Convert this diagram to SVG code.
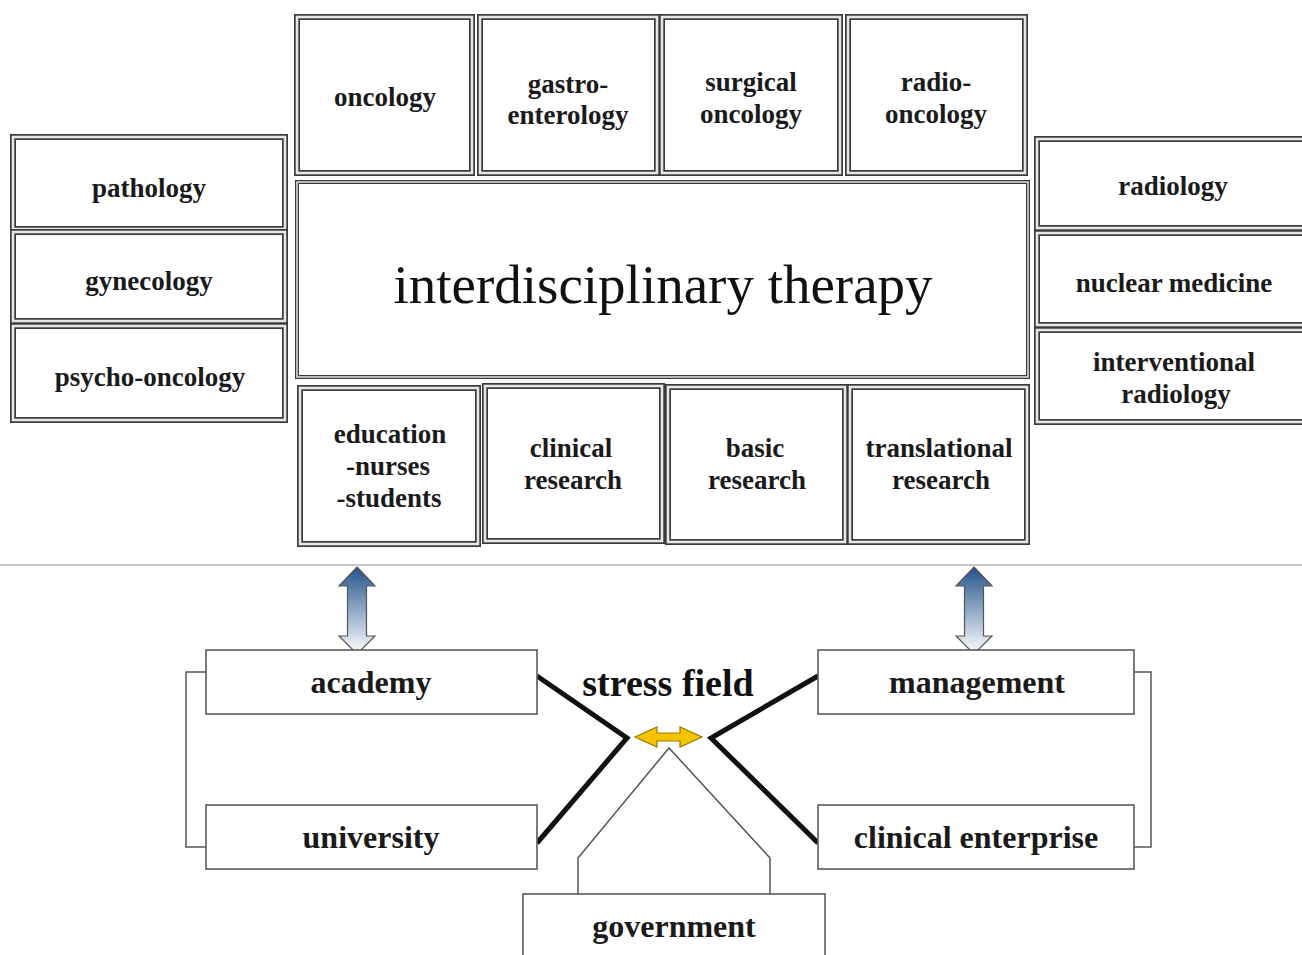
<svg xmlns="http://www.w3.org/2000/svg" width="1302" height="955" viewBox="0 0 1302 955">
<style>
.bo{fill:#fff;stroke:#3a3a3a;stroke-width:6}
.bi{fill:none;stroke:#e6e6e6;stroke-width:2.6}
.co{fill:#fff;stroke:#3a3a3a;stroke-width:4}
.ci{fill:none;stroke:#eee;stroke-width:1.4}
.sb{fill:#fff;stroke:#5a5a5a;stroke-width:1.6}
.t{font-family:"Liberation Serif","Times New Roman",serif;font-weight:bold;font-size:27px;fill:#1a1a1a;text-anchor:middle}
.tl{font-family:"Liberation Serif","Times New Roman",serif;font-weight:bold;font-size:32px;fill:#1a1a1a;text-anchor:middle}
.thick{fill:none;stroke:#111;stroke-width:5;stroke-linejoin:miter}
.thin{fill:none;stroke:#555;stroke-width:1.5}
</style>
<defs>
<linearGradient id="blue" x1="0" y1="0" x2="0" y2="1">
<stop offset="0" stop-color="#24538c"/>
<stop offset="1" stop-color="#ffffff"/>
</linearGradient>
</defs>
<rect width="1302" height="955" fill="#fff"/>
<line x1="0" y1="565" x2="1302" y2="565" stroke="#c8c8c8" stroke-width="2"/>

<g id="oncology"><rect class="bo" x="297" y="17" width="175" height="156"/><rect class="bi" x="297" y="17" width="175" height="156"/><text class="t" x="385" y="106">oncology</text></g>
<g id="gastro"><rect class="bo" x="480" y="17" width="177" height="156"/><rect class="bi" x="480" y="17" width="177" height="156"/><text class="t" x="568" y="93">gastro-</text><text class="t" x="568" y="124">enterology</text></g>
<g id="surgical"><rect class="bo" x="662" y="17" width="178" height="156"/><rect class="bi" x="662" y="17" width="178" height="156"/><text class="t" x="751" y="91">surgical</text><text class="t" x="751" y="123">oncology</text></g>
<g id="radio-oncology"><rect class="bo" x="848" y="17" width="177" height="156"/><rect class="bi" x="848" y="17" width="177" height="156"/><text class="t" x="936" y="91">radio-</text><text class="t" x="936" y="123">oncology</text></g>

<g id="center"><rect class="co" x="297" y="182" width="731" height="195"/><rect class="ci" x="297" y="182" width="731" height="195"/><text x="663" y="303" font-family="'Liberation Serif','Times New Roman',serif" font-size="55" fill="#111" text-anchor="middle">interdisciplinary therapy</text></g>

<g id="pathology"><rect class="bo" x="13" y="137" width="272" height="92"/><rect class="bi" x="13" y="137" width="272" height="92"/><text class="t" x="149" y="197">pathology</text></g>
<g id="gynecology"><rect class="bo" x="13" y="232" width="272" height="89"/><rect class="bi" x="13" y="232" width="272" height="89"/><text class="t" x="149" y="290">gynecology</text></g>
<g id="psycho-oncology"><rect class="bo" x="13" y="326" width="272" height="94"/><rect class="bi" x="13" y="326" width="272" height="94"/><text class="t" x="150" y="386">psycho-oncology</text></g>

<g id="radiology"><rect class="bo" x="1037" y="139" width="275" height="89"/><rect class="bi" x="1037" y="139" width="275" height="89"/><text class="t" x="1173" y="195">radiology</text></g>
<g id="nuclear"><rect class="bo" x="1037" y="233" width="275" height="92"/><rect class="bi" x="1037" y="233" width="275" height="92"/><text class="t" x="1174" y="292">nuclear medicine</text></g>
<g id="interventional"><rect class="bo" x="1037" y="330" width="275" height="92"/><rect class="bi" x="1037" y="330" width="275" height="92"/><text class="t" x="1174" y="371">interventional</text><text class="t" x="1176" y="403">radiology</text></g>

<g id="education"><rect class="bo" x="300" y="388" width="178" height="156"/><rect class="bi" x="300" y="388" width="178" height="156"/><text class="t" x="390" y="443">education</text><text class="t" x="388" y="475">-nurses</text><text class="t" x="389" y="507">-students</text></g>
<g id="clinical-research"><rect class="bo" x="485" y="386" width="177" height="155"/><rect class="bi" x="485" y="386" width="177" height="155"/><text class="t" x="571" y="457">clinical</text><text class="t" x="573" y="489">research</text></g>
<g id="basic-research"><rect class="bo" x="668" y="387" width="177" height="155"/><rect class="bi" x="668" y="387" width="177" height="155"/><text class="t" x="755" y="457">basic</text><text class="t" x="757" y="489">research</text></g>
<g id="translational"><rect class="bo" x="850" y="387" width="177" height="155"/><rect class="bi" x="850" y="387" width="177" height="155"/><text class="t" x="939" y="457">translational</text><text class="t" x="941" y="489">research</text></g>

<g id="connectors">
<path class="thin" d="M206,672 H186 V847 H206"/>
<path class="thin" d="M1134,672 H1151 V847 H1134"/>
<path class="thin" d="M578,894 V858 L669,748 L770,858 V894"/>
<path class="thick" d="M537,676 L627,738 L537,843"/>
<path class="thick" d="M818,676 L711,738 L818,843"/>
<path d="M357,567 L375,586 L366.5,586 L366.5,636 L375,636 L357,654 L339,636 L347.5,636 L347.5,586 L339,586 Z" fill="url(#blue)" stroke="#555" stroke-width="1.2"/>
<path d="M974,567 L992,586 L983.5,586 L983.5,636 L992,636 L974,654 L956,636 L964.5,636 L964.5,586 L956,586 Z" fill="url(#blue)" stroke="#555" stroke-width="1.2"/>
<path d="M635,737 L657,727 L657,733 L680,733 L680,727 L702,737 L680,747 L680,741 L657,741 L657,747 Z" fill="#f4c400" stroke="#9a7a00" stroke-width="1.2"/>
</g>

<g id="academy"><rect class="sb" x="206" y="650" width="331" height="64"/><text class="tl" x="371" y="693">academy</text></g>
<g id="university"><rect class="sb" x="206" y="805" width="331" height="64"/><text class="tl" x="371" y="848">university</text></g>
<g id="management"><rect class="sb" x="818" y="650" width="316" height="64"/><text class="tl" x="977" y="693">management</text></g>
<g id="clinical-enterprise"><rect class="sb" x="818" y="805" width="316" height="64"/><text class="tl" x="976" y="848">clinical enterprise</text></g>
<g id="government"><rect class="sb" x="523" y="894" width="302" height="80"/><text class="tl" x="674" y="937">government</text></g>
<g id="stress-field"><text x="668" y="696" font-family="'Liberation Serif','Times New Roman',serif" font-weight="bold" font-size="38" fill="#111" text-anchor="middle">stress field</text></g>
</svg>
